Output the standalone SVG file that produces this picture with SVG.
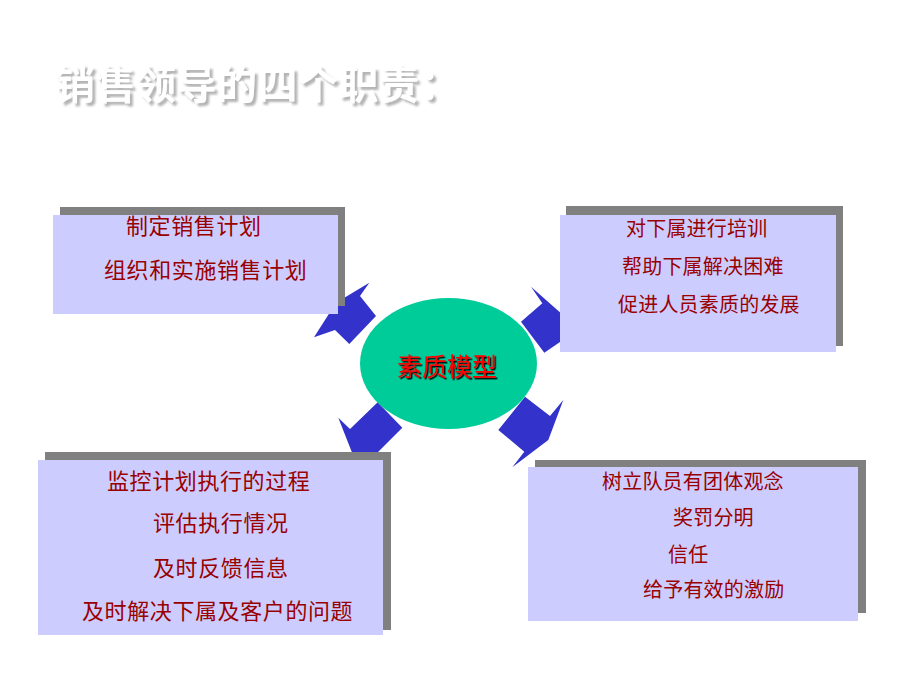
<svg xmlns="http://www.w3.org/2000/svg" width="920" height="690" viewBox="0 0 920 690">
<defs>
<filter id="titleShadow" x="-5%" y="-20%" width="115%" height="150%">
<feDropShadow dx="3" dy="3" stdDeviation="1" flood-color="#A0A0A0" flood-opacity="0.8"/>
</filter>
<filter id="centerShadow" x="-5%" y="-20%" width="115%" height="150%">
<feDropShadow dx="1.5" dy="1.5" stdDeviation="0" flood-color="#000000" flood-opacity="1"/>
</filter>
</defs>
<style>
.shadow{fill:#808080}
.box{fill:#CCCCFF}
.t{font-family:"Noto Sans CJK SC","Noto Sans",sans-serif;fill:#990000}
.t22{font-size:22px;letter-spacing:0.6px}
.t20{font-size:20px;letter-spacing:0.2px}
.arrow{fill:#3333CC}
.title{font-family:"Noto Sans CJK SC","Noto Sans",sans-serif;font-size:40px;font-weight:bold;letter-spacing:0.5px;fill:#FFFFFF}
.center{font-family:"Noto Sans CJK SC","Noto Sans",sans-serif;font-size:25px;fill:#FF0000}
</style>
<rect width="920" height="690" fill="#FFFFFF"/>
<g id="title">
<text class="title" x="55" y="99" filter="url(#titleShadow)">销售领导的四个职责：</text>
</g>
<g id="connectors">
<polygon class="arrow" points="369.3,282.7 360,296 376,316 349.3,344 335,330 314,337.3 336,302.7"/>
<polygon class="arrow" points="531,286.7 542.3,303.3 521,321.7 544.3,352.7 567.7,336.7 577.7,352.7 561,313.3"/>
<polygon class="arrow" points="338.3,417.7 350,429 377.7,402.3 402.3,427.7 374.3,455.7 377.7,461 351.7,451.7"/>
<polygon class="arrow" points="498.3,430 525,396.7 550,416 563.3,400 548.3,440 512.3,467.3 524.3,451.7"/>
</g>
<g id="node-plan">
<rect class="shadow" x="60" y="207" width="285" height="99"/>
<rect class="box" x="53" y="215" width="285" height="99"/>
<text class="t t22" x="126" y="234">制定销售计划</text>
<text class="t t22" x="104" y="278">组织和实施销售计划</text>
</g>
<g id="node-train">
<rect class="shadow" x="566" y="206" width="277" height="140"/>
<rect class="box" x="560" y="215" width="276" height="137"/>
<text class="t t20" x="626" y="236">对下属进行培训</text>
<text class="t t20" x="622" y="274">帮助下属解决困难</text>
<text class="t t20" x="618" y="312">促进人员素质的发展</text>
</g>
<g id="node-monitor">
<rect class="shadow" x="45" y="452" width="346" height="178"/>
<rect class="box" x="38" y="460" width="345" height="175"/>
<text class="t t22" x="107" y="489">监控计划执行的过程</text>
<text class="t t22" x="153" y="531">评估执行情况</text>
<text class="t t22" x="153" y="576">及时反馈信息</text>
<text class="t t22" x="82" y="619">及时解决下属及客户的问题</text>
</g>
<g id="node-team">
<rect class="shadow" x="535" y="460" width="331" height="153"/>
<rect class="box" x="528" y="467" width="330" height="154"/>
<text class="t t20" x="602" y="489">树立队员有团体观念</text>
<text class="t t20" x="673" y="525">奖罚分明</text>
<text class="t t20" x="668" y="562">信任</text>
<text class="t t20" x="643" y="597">给予有效的激励</text>
</g>
<g id="node-center">
<ellipse cx="448.5" cy="363.5" rx="88.5" ry="65.5" fill="#00CC99"/>
<text class="center" x="397" y="376" filter="url(#centerShadow)">素质模型</text>
</g>
</svg>
